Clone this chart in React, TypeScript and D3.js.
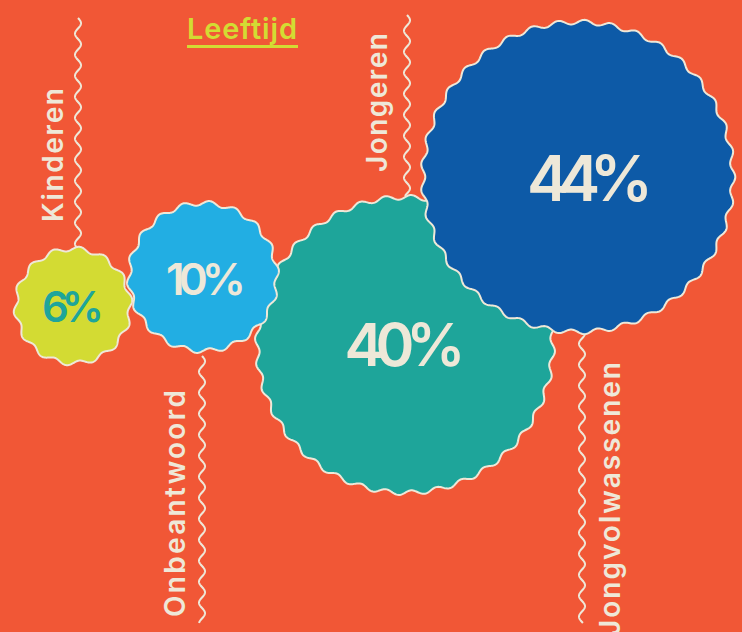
import React from "react";
import * as d3 from "d3";

// ---- data ----
const categories = ["Kinderen", "Onbeantwoord", "Jongeren", "Jongvolwassenen"];
const values = [6, 10, 40, 44];
const title = "Leeftijd";

// ---- layout (positions / styles) ----
const W = 742;
const H = 632;
const BG = "#F15736";
const CREAM = "#EEE8D8";
const fills = ["#D3DB33", "#22AEE3", "#1EA59A", "#0D5AA7"];
const textFills = ["#1EA59A", CREAM, CREAM, CREAM];
const centers: [number, number][] = [
  [73, 306],
  [203, 277],
  [405, 345],
  [578, 177],
];
const drawOrder = [0, 2, 1, 3];
const pctFont = [42, 44, 59, 63];
const pctLen = [62, 80, 121, 126];
const pctDx = [0, 3, 0, 12];
const pctBaselineOffset = [16, 18, 21, 24];

// label layouts: line x, line y0, y1, text baseline x, text start y (bottom), text length
const labelLayout = [
  { lx: 78, ly0: 18, ly1: 248, tx: 63, ty: 222, len: 134 },
  { lx: 202, ly0: 356, ly1: 623, tx: 185, ty: 617, len: 227 },
  { lx: 407, ly0: 15, ly1: 196, tx: 387, ty: 172, len: 139 },
  { lx: 582, ly0: 328, ly1: 623, tx: 620, ty: 636, len: 274 },
];

const rScale = d3.scaleSqrt().domain([0, 44]).range([0, 155]);

function wavyCircle(R: number): string {
  const wl = 26;
  const n = Math.max(8, Math.round((2 * Math.PI * R) / wl));
  const A = 2.3;
  const N = 900;
  const pts: [number, number][] = d3.range(N).map((i) => {
    const t = (i / N) * 2 * Math.PI;
    return [t, R + A * Math.sin(n * t)];
  });
  return d3.lineRadial().curve(d3.curveLinearClosed)(pts) || "";
}

function wavyLine(x0: number, y0: number, y1: number): string {
  const wl = 21;
  const A = 3;
  const pts: [number, number][] = d3
    .range(y0, y1 + 0.5, 0.5)
    .map((y) => [x0 + A * Math.sin((2 * Math.PI * (y - y0)) / wl), y]);
  return d3.line().curve(d3.curveLinear)(pts) || "";
}

const FONT = "Inter, 'Open Sans', sans-serif";

export default function App() {
  return (
    <div style={{ position: "absolute", left: 0, top: 0 }}>
      <svg width={W} height={H} style={{ display: "block" }}>
        <rect x={0} y={0} width={W} height={H} fill={BG} />
        {/* title */}
        <text
          x={187}
          y={39}
          fontFamily={FONT}
          fontWeight={600}
          fontSize={29}
          fill="#D3DB33"
          textLength={110}
        >
          {title}
        </text>
        <rect x={187} y={45} width={111} height={3} fill="#D3DB33" />

        {/* wavy connector lines */}
        {labelLayout.map((l, i) => (
          <path
            key={"l" + i}
            d={wavyLine(l.lx, l.ly0, l.ly1)}
            fill="none"
            stroke={CREAM}
            strokeWidth={2}
          />
        ))}

        {/* labels */}
        {labelLayout.map((l, i) => (
          <text
            key={"t" + i}
            transform={`translate(${l.tx},${l.ty}) rotate(-90)`}
            fontFamily={FONT}
            fontWeight={600}
            fontSize={28}
            fill={CREAM}
            textLength={l.len}
          >
            {categories[i]}
          </text>
        ))}

        {/* bubbles */}
        {drawOrder.map((i) => {
          const [cx, cy] = centers[i];
          const r = rScale(values[i]);
          return (
            <g key={"b" + i} transform={`translate(${cx},${cy})`}>
              <path
                d={wavyCircle(r)}
                fill={fills[i]}
                stroke={CREAM}
                strokeWidth={2}
              />
              <text
                x={pctDx[i]}
                y={pctBaselineOffset[i]}
                textAnchor="middle"
                fontFamily={FONT}
                fontWeight={600}
                fontSize={pctFont[i]}
                fill={textFills[i]}
                textLength={pctLen[i]}
              >
                {values[i] + "%"}
              </text>
            </g>
          );
        })}
      </svg>
    </div>
  );
}
